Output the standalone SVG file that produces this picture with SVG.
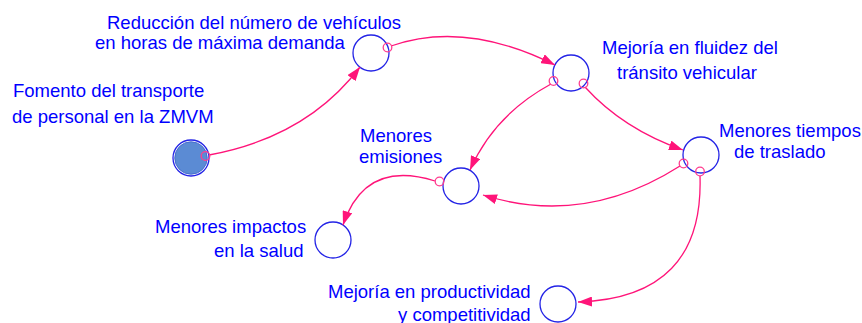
<svg xmlns="http://www.w3.org/2000/svg" width="862" height="323" viewBox="0 0 862 323">
<defs>
<style>
.lbl{font-family:"Liberation Sans",Arial,sans-serif;font-size:18.5px;fill:#0000ff}
.node{fill:none;stroke:#2424e6;stroke-width:1.3}
.link{fill:none;stroke:#ff1479;stroke-width:1.3;marker-end:url(#ah)}
.tail{fill:none;stroke:#ff3d8f;stroke-width:1.3}
</style>
<marker id="ah" viewBox="0 0 14 10" refX="14" refY="5" markerWidth="14" markerHeight="10" markerUnits="userSpaceOnUse" orient="auto">
<path d="M0,0 L14,5 L0,10 z" fill="#ff1479"/>
</marker>
</defs>
<rect width="862" height="323" fill="#ffffff"/>
<g id="n-fomento">
<circle class="node" cx="191" cy="158" r="18"/>
<circle cx="191" cy="158" r="16.3" fill="#5b8bd4" stroke="#3b5fcc" stroke-width="0.8"/>
<text class="lbl" x="13" y="97">Fomento del transporte</text>
<text class="lbl" x="12" y="123">de personal en la ZMVM</text>
</g>
<g id="n-reduccion">
<circle class="node" cx="371" cy="53" r="18"/>
<text class="lbl" x="107" y="29">Reducción del número de vehículos</text>
<text class="lbl" x="95" y="48.5">en horas de máxima demanda</text>
</g>
<g id="n-fluidez">
<circle class="node" cx="571" cy="73" r="18"/>
<text class="lbl" x="602" y="54">Mejoría en fluidez del</text>
<text class="lbl" x="617" y="79">tránsito vehicular</text>
</g>
<g id="n-tiempos">
<circle class="node" cx="701" cy="155" r="18"/>
<text class="lbl" x="719" y="137">Menores tiempos</text>
<text class="lbl" x="734" y="158">de traslado</text>
</g>
<g id="n-emisiones">
<circle class="node" cx="461" cy="186" r="18"/>
<text class="lbl" x="360" y="141.5">Menores</text>
<text class="lbl" x="359" y="162.5">emisiones</text>
</g>
<g id="n-salud">
<circle class="node" cx="333" cy="240" r="18"/>
<text class="lbl" x="155" y="233">Menores impactos</text>
<text class="lbl" x="214" y="256.5">en la salud</text>
</g>
<g id="n-productividad">
<circle class="node" cx="558" cy="304" r="18"/>
<text class="lbl" x="328" y="298">Mejoría en productividad</text>
<text class="lbl" x="398" y="321">y competitividad</text>
</g>
<g id="connectors">
<path class="link" d="M209,155 Q307,137 360,67"/>
<path class="link" d="M391,46 Q465,20 555,65"/>
<path class="link" d="M551,84 Q494,115 470,170"/>
<path class="link" d="M585,87 Q623,129 683,150"/>
<path class="link" d="M680,166 Q584,227 483,195"/>
<path class="link" d="M700,176 Q704,298 578,302"/>
<path class="link" d="M435,181 Q365,159 343,225"/>
<circle class="tail" cx="205.5" cy="156" r="4.3"/>
<circle class="tail" cx="387.5" cy="47.5" r="4.3"/>
<circle class="tail" cx="553.5" cy="81" r="4.3"/>
<circle class="tail" cx="583.5" cy="83.5" r="4.3"/>
<circle class="tail" cx="683.5" cy="163.5" r="4.3"/>
<circle class="tail" cx="700" cy="171.5" r="4.3"/>
<circle class="tail" cx="439.5" cy="181.5" r="4.3"/>
</g>
</svg>
